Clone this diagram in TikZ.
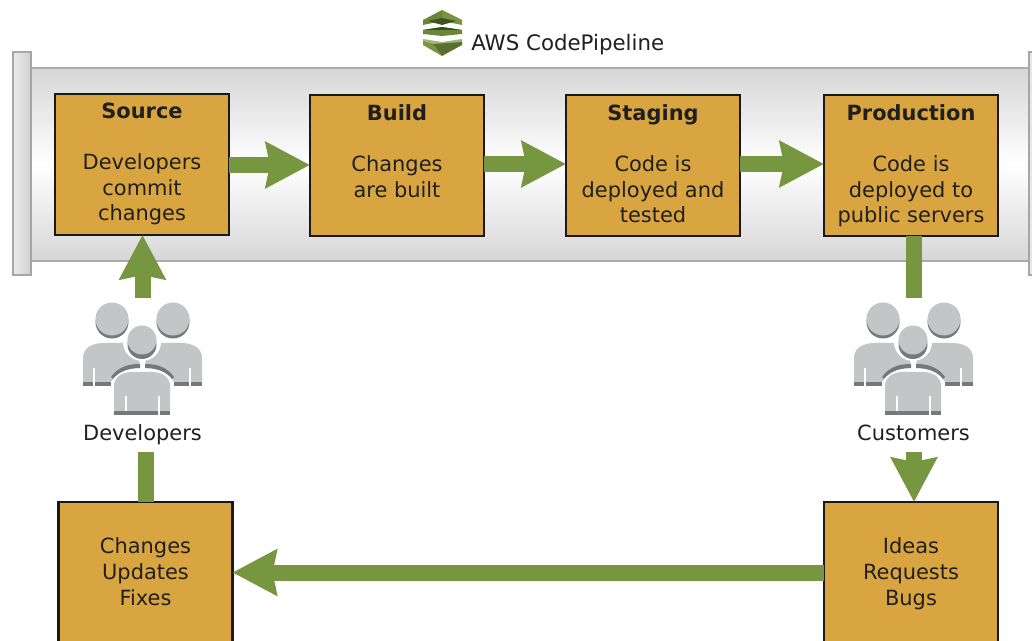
\documentclass[tikz,border=0pt]{standalone}
\usepackage{fontspec}
\setmainfont{DejaVu Sans}
\usetikzlibrary{arrows.meta}
\definecolor{boxfill}{HTML}{D9A541}
\definecolor{flow}{HTML}{76963F}
\definecolor{txt}{HTML}{202020}
\definecolor{iconfill}{HTML}{C4C5C7}
\definecolor{iconshade}{HTML}{77787A}
\tikzset{
  x=0.75pt,y=-0.75pt,
  stage/.style={draw=black!90,line width=1.6pt,fill=boxfill,minimum width=130.5pt,minimum height=105.75pt,inner sep=0pt,outer sep=0pt,align=center,text=txt,font=\fontsize{15.7}{19.2}\selectfont},
  caption/.style={inner sep=0pt,anchor=base,text=txt,font=\fontsize{15.7}{19}\selectfont},
  flowhead/.style={-{Stealth[width=33.75pt,length=33pt,inset=3pt]},draw=flow,line width=12pt},
  flowline/.style={draw=flow,line width=12pt},
  people/.pic={
    % back heads with shadow
    \foreach \hx in {-30,31}{
      \fill[iconshade] (\hx,-20) circle[radius=16.5];
      \fill[iconfill] (\hx,-23) circle[radius=16.5];
    }
    % back bodies
    \fill[iconfill] (-59,40) -- (-59,16) .. controls (-59,6) and (-50,1) .. (-38,1) -- (-4,1) -- (-2,26) .. controls (-16,26) and (-26,31) .. (-31,40) -- cycle;
    \fill[iconfill] (60,40) -- (60,16) .. controls (60,6) and (51,1) .. (39,1) -- (5,1) -- (3,26) .. controls (17,26) and (27,31) .. (32,40) -- cycle;
    \fill[iconshade] (-59,40) rectangle (-31,44);
    \fill[iconshade] (32,40) rectangle (60,44);
    \fill[white] (-49,26) rectangle (-47,45);
    \fill[white] (47,26) rectangle (49,45);
    % dark rims over the shoulders
    \fill[iconshade] (-2,22) .. controls (-14,22) and (-24,25) .. (-31,35) -- (-29,37) .. controls (-24,30) and (-14,26) .. (-2,26) -- cycle;
    \fill[iconshade] (3,22) .. controls (15,22) and (25,25) .. (32,35) -- (30,37) .. controls (25,30) and (15,26) .. (3,26) -- cycle;
    % white halo and front head
    \fill[white] (0,0) circle[radius=19];
    \fill[iconshade] (0,2.5) circle[radius=14.5];
    \fill[iconfill] (0,-2) circle[radius=14.5];
    % front body
    \fill[iconfill] (-28,69) -- (-28,44) .. controls (-28,36) and (-22,31) .. (-12,30) -- (12,30) .. controls (22,31) and (28,36) .. (28,44) -- (28,69) -- cycle;
    \fill[iconshade] (-28,69) rectangle (28,73);
    \fill[white] (-17,54) rectangle (-15,69);
    \fill[white] (16,54) rectangle (18,74);
  }
}
\newcommand{\tl}[1]{\strut\textbf{#1}}
\newcommand{\tlb}[1]{\rule{0pt}{14.94pt}\textbf{#1}}
\begin{document}
\begin{tikzpicture}
\useasboundingbox (0,0) rectangle (1032,641);
\clip (0,0) rectangle (1032,641);
\fill[white] (0,0) rectangle (1032,641);
% pipe
\shade[top color=white!84!black,bottom color=white!84!black,middle color=white] (31,68) rectangle (1028,261);
\draw[black!33,line width=1.2pt] (31,68) -- (1028,68) (31,261) -- (1028,261);
\shade[left color=white!92!black,right color=white!82!black,draw=black!35,line width=0.9pt] (13,52) rectangle (31,275);
\shade[left color=white!92!black,right color=white!82!black,draw=black!35,line width=0.9pt] (1029,52) rectangle (1040,275);
% logo
\fill[flow!90!black] (423,20) -- (442,10) -- (442,21) -- (423,25) -- cycle;
\fill[flow] (442,10) -- (462,20) -- (462,25) -- (442,21) -- cycle;
\fill[flow!55!black] (428,21) -- (442,18) -- (456,21) -- (442,25) -- cycle;
\fill[flow!90!black] (423,30) -- (442,27) -- (462,30) -- (462,34) -- (442,36) -- (423,34) -- cycle;
\fill[flow!50!black] (423,30) -- (442,27) -- (462,30) -- (442,30) -- cycle;
\fill[flow!70!white] (423,39) -- (442,42) -- (462,39) -- (462,43) -- (442,47) -- (423,43) -- cycle;
\fill[flow] (423,41) -- (433,44) -- (442,56) -- (423,45) -- cycle;
\fill[flow!75!black] (433,44) -- (462,42) -- (462,45) -- (442,56) -- cycle;
\node[caption,font=\fontsize{16}{19}\selectfont,anchor=base west] (title) at (471,50.5) {AWS CodePipeline};
% stages
\node[stage] (source) at (142,164.5) {\tl{Source}\\[19.2pt]Developers\\commit\\changes\strut};
\node[stage] (build) at (397,165.5) {\tlb{Build}\\[19.2pt]Changes\\are built\\\strut};
\node[stage] (staging) at (653,165.5) {\tlb{Staging}\\[19.2pt]Code is\\deployed and\\tested\strut};
\node[stage] (production) at (911,165.5) {\tlb{Production}\\[19.2pt]Code is\\deployed to\\public servers\strut};
\node[stage,minimum height=120pt] (changes) at (145.5,582) {\strut Changes\\Updates\\Fixes\strut\\[-2pt]\mbox{}};
\node[stage,minimum height=120pt] (ideas) at (911,582) {\strut Ideas\\Requests\\Bugs\strut\\[-2pt]\mbox{}};
% people
\pic at (142,342) {people};
\pic at (913,342) {people};
\node[caption] (devlabel) at (142.5,440.5) {Developers};
\node[caption] (custlabel) at (913.5,440.5) {Customers};
% connectors
\coordinate (devtop) at (142.5,298);
\coordinate (devbot) at (146,452);
\coordinate (custtop) at (913.5,298);
\coordinate (custbot) at (914,452);
\draw[flowhead] (source.east |- 0,165) -- (build.west |- 0,165);
\draw[flowhead] (build.east |- 0,164) -- (staging.west |- 0,164);
\draw[flowhead] (staging.east |- 0,164) -- (production.west |- 0,164);
\draw[flowhead] (devtop) -- (source.south -| devtop);
\draw[flowline] (production.south -| custtop) -- (custtop);
\draw[flowhead] (custbot) -- (ideas.north -| custbot);
\draw[flowline] (devbot) -- (changes.north -| devbot);
\draw[flowhead] (ideas.west |- 0,572.5) -- (changes.east |- 0,572.5);
\end{tikzpicture}
\end{document}
